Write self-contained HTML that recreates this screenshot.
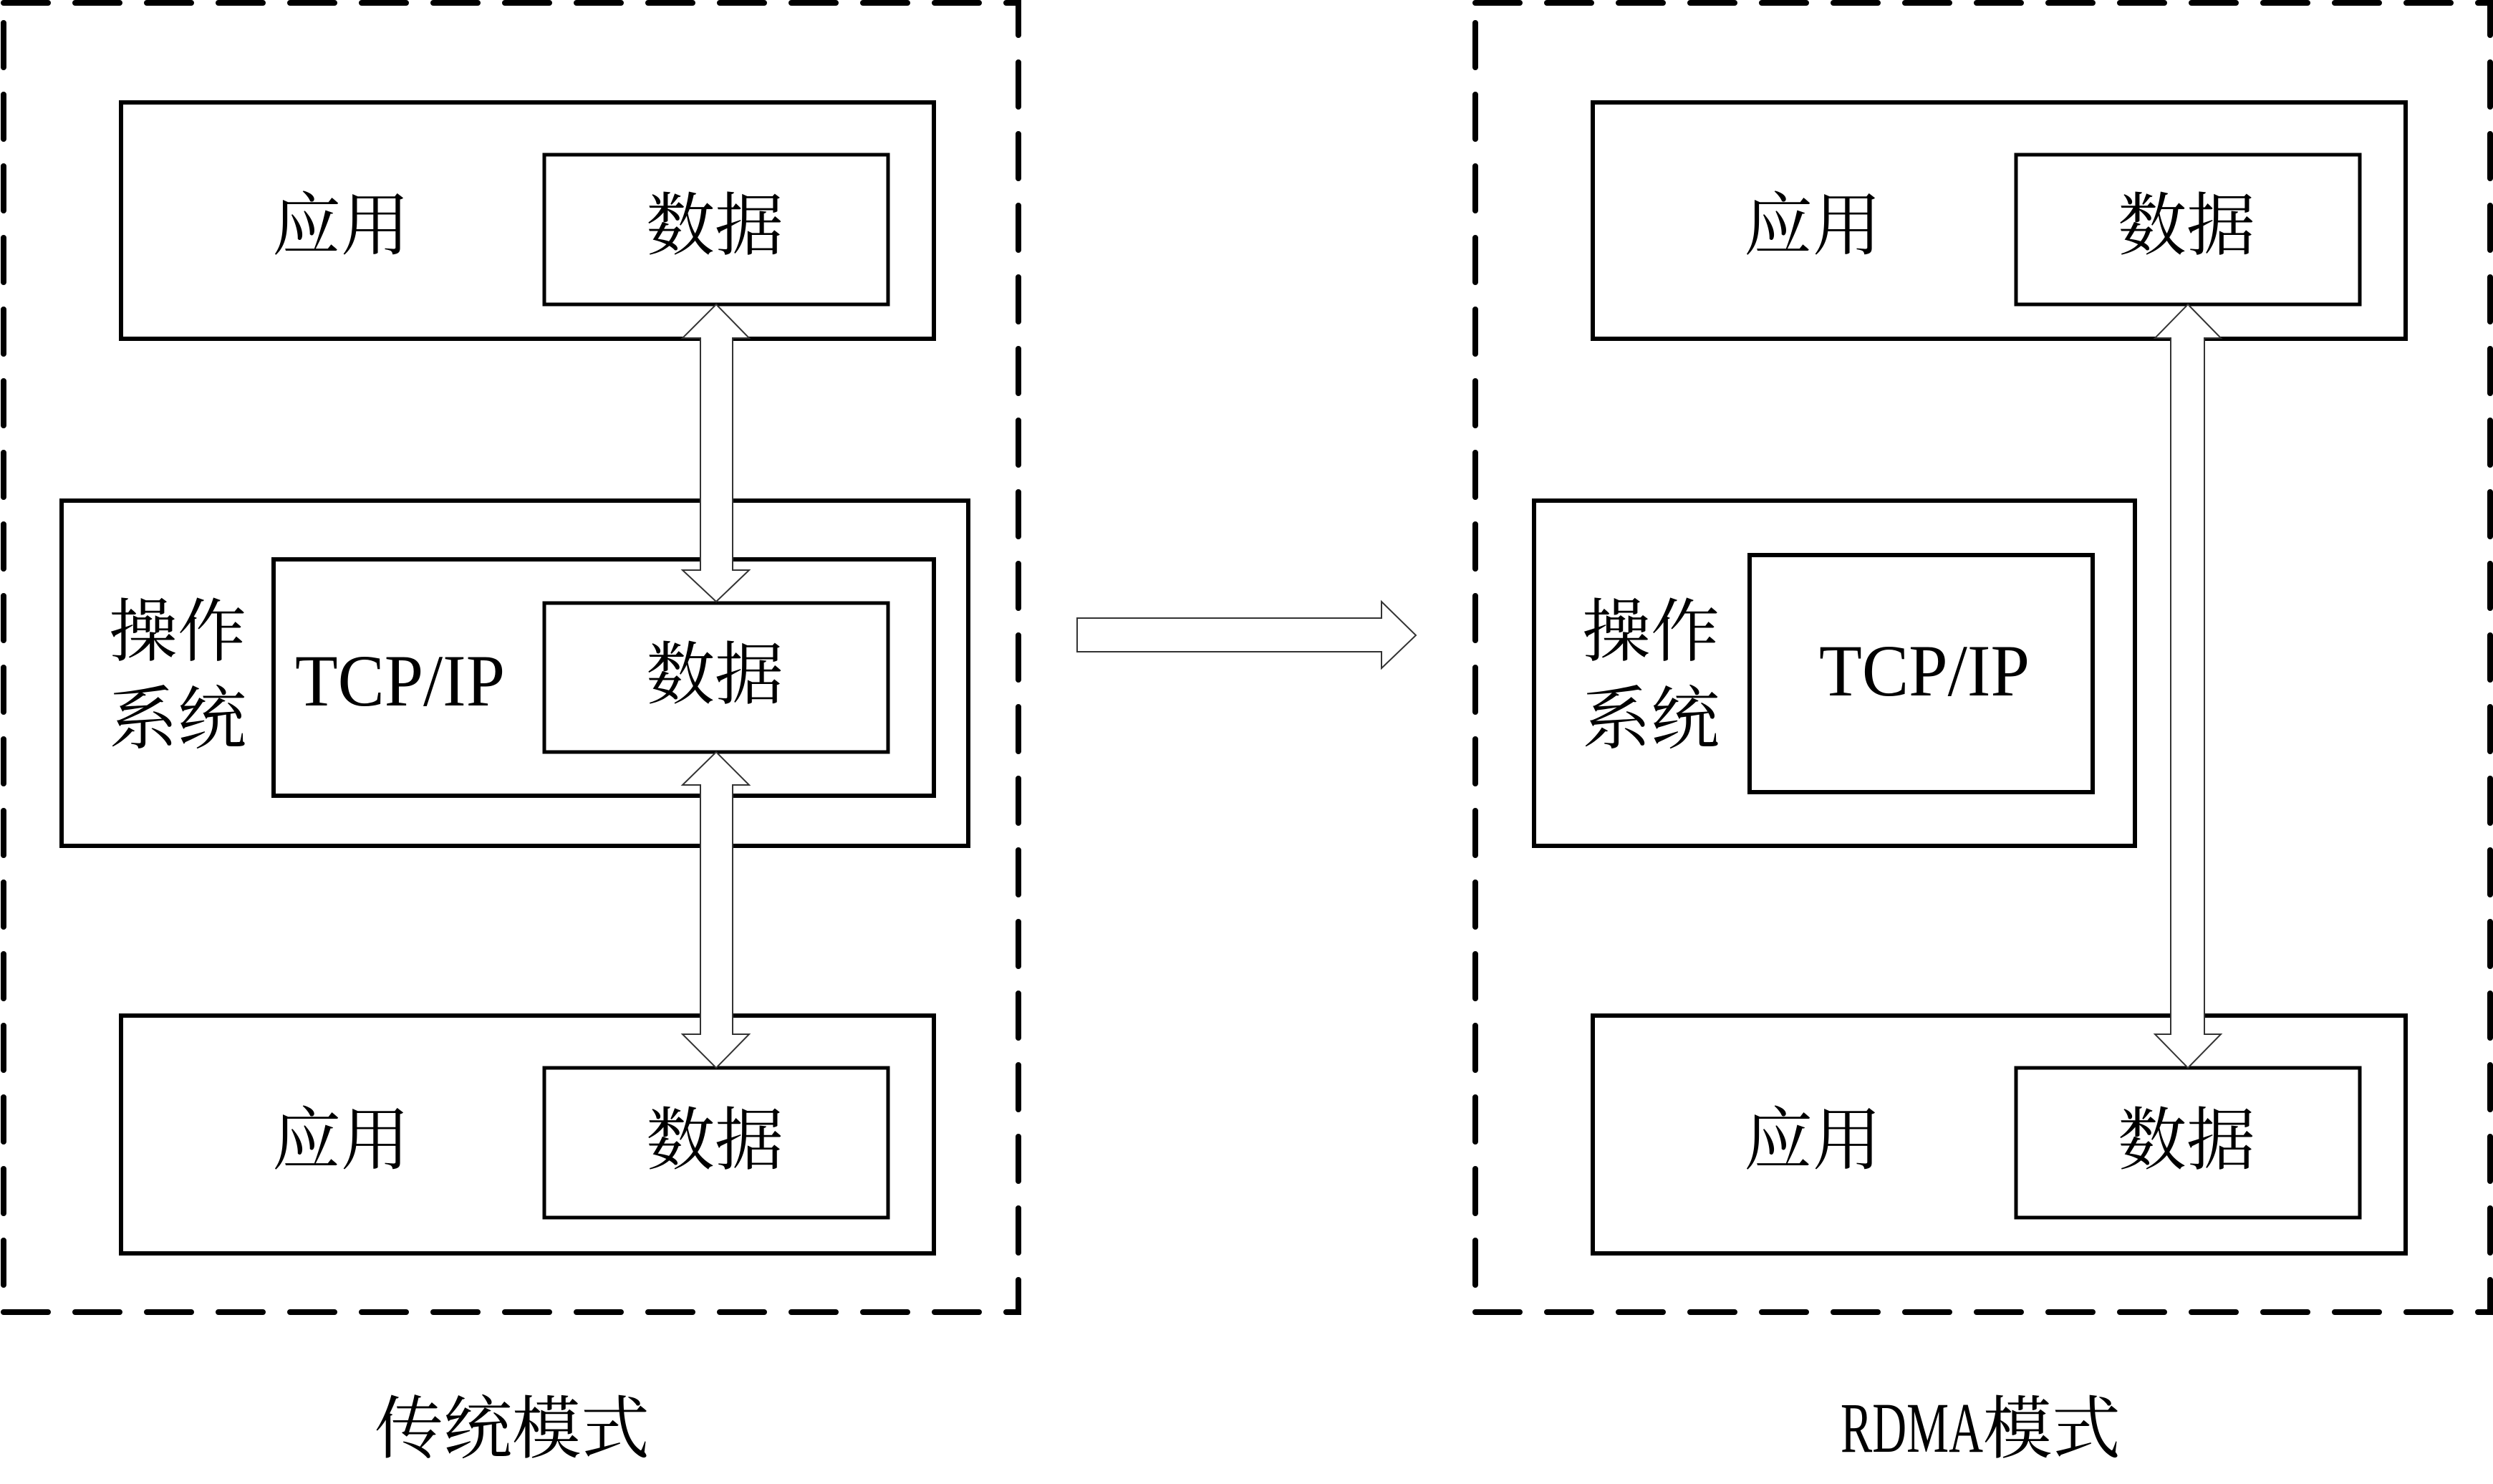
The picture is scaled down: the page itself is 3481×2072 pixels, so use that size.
<!DOCTYPE html>
<html><head><meta charset="utf-8"><style>
html,body{margin:0;padding:0;background:#fff;}
svg{display:block;}
.cj{font-family:"Liberation Serif","Noto Serif CJK SC","Noto Sans CJK SC",serif;font-size:96px;fill:#000;}
.la{font-family:"Liberation Serif",serif;fill:#000;}
</style></head><body>
<svg width="3481" height="2072" viewBox="0 0 3481 2072" xmlns="http://www.w3.org/2000/svg">
<rect width="3481" height="2072" fill="#fff"/>
<defs>
<g id="panelBase">
  <!-- app top -->
  <rect x="169" y="143" width="1135" height="330" fill="#fff" stroke="#000" stroke-width="6"/>
  <rect x="760" y="216" width="480" height="209" fill="#fff" stroke="#000" stroke-width="5"/>
  <text class="cj" x="476" y="348" text-anchor="middle">应用</text>
  <text class="cj" x="998" y="348" text-anchor="middle">数据</text>
  <!-- app bottom -->
  <rect x="169" y="1418" width="1135" height="332" fill="#fff" stroke="#000" stroke-width="6"/>
  <rect x="760" y="1491" width="480" height="209" fill="#fff" stroke="#000" stroke-width="5"/>
  <text class="cj" x="476" y="1625" text-anchor="middle">应用</text>
  <text class="cj" x="998" y="1625" text-anchor="middle">数据</text>
</g>
</defs>

<!-- LEFT PANEL -->
<rect x="5" y="4" width="1417" height="1828" fill="none" stroke="#000" stroke-width="8" stroke-dasharray="62 38" stroke-linecap="round"/>
<use href="#panelBase"/>
<rect x="86" y="699" width="1266" height="482" fill="#fff" stroke="#000" stroke-width="6"/>
<rect x="382" y="781" width="922" height="330" fill="#fff" stroke="#000" stroke-width="6"/>
<rect x="760" y="842" width="480" height="208" fill="#fff" stroke="#000" stroke-width="5"/>
<text class="cj" x="248" y="915" text-anchor="middle">操作</text>
<text class="cj" x="248" y="1037" text-anchor="middle">系统</text>
<text class="la" x="412" y="985" font-size="103" textLength="293" lengthAdjust="spacingAndGlyphs">TCP/IP</text>
<text class="cj" x="998" y="975" text-anchor="middle">数据</text>
<!-- arrow 1 -->
<polygon points="1000,425 1046,472 1023,472 1023,796 1046,796 1000,840 953,796 978,796 978,472 953,472" fill="#fff" stroke="#333" stroke-width="2"/>
<!-- arrow 2 -->
<polygon points="1000,1050 1046,1096 1023,1096 1023,1444 1046,1444 1000,1491 953,1444 978,1444 978,1096 953,1096" fill="#fff" stroke="#333" stroke-width="2"/>
<text class="cj" x="715" y="2028" text-anchor="middle">传统模式</text>

<!-- MIDDLE ARROW -->
<polygon points="1504,863 1929,863 1929,840 1977,887 1929,933 1929,910 1504,910" fill="#fff" stroke="#333" stroke-width="2"/>

<!-- RIGHT PANEL -->
<rect x="2060" y="4" width="1417" height="1828" fill="none" stroke="#000" stroke-width="8" stroke-dasharray="62 38" stroke-linecap="round"/>
<use href="#panelBase" x="2055"/>
<rect x="2142" y="699" width="839" height="482" fill="#fff" stroke="#000" stroke-width="6"/>
<rect x="2443" y="775" width="479" height="331" fill="#fff" stroke="#000" stroke-width="6"/>
<text class="cj" x="2305" y="915" text-anchor="middle">操作</text>
<text class="cj" x="2305" y="1037" text-anchor="middle">系统</text>
<text class="la" x="2540" y="971" font-size="103" textLength="294" lengthAdjust="spacingAndGlyphs">TCP/IP</text>
<!-- long arrow -->
<polygon points="3055,425 3101,472 3078,472 3078,1444 3101,1444 3055,1491 3009,1444 3031,1444 3031,472 3009,472" fill="#fff" stroke="#333" stroke-width="2"/>
<text class="la" x="2570" y="2027" font-size="100" textLength="199" lengthAdjust="spacingAndGlyphs">RDMA</text>
<text class="cj" x="2769" y="2028">模式</text>
</svg>
</body></html>
